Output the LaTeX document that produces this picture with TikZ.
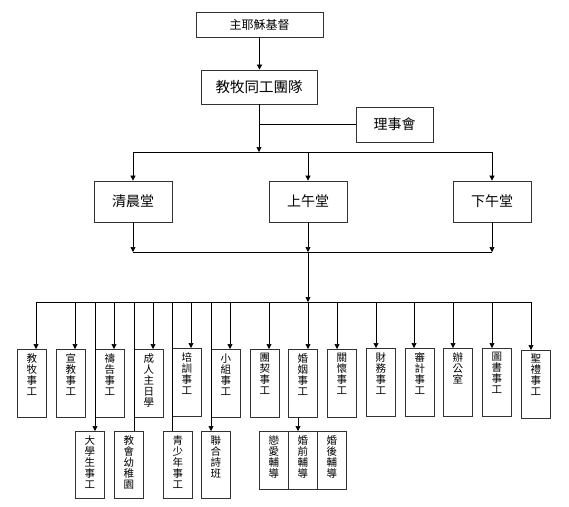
\documentclass[tikz,border=0pt]{standalone}
\usepackage{fontspec}
\newfontfamily\cjk{Noto Sans CJK TC}
\usetikzlibrary{arrows.meta}
\newcommand{\vt}[2]{\parbox[c][#1][t]{29pt}{\centering\vspace*{4pt}\fontsize{10.5}{11}\selectfont\cjk #2\par}}
\begin{document}
\begin{tikzpicture}[x=1pt,y=-1pt,
  box/.style={draw=black!80, line width=0.7pt, inner sep=0pt},
  vbox/.style={box, anchor=north west, minimum width=29pt},
  arr/.style={-{Triangle[length=5pt,width=5pt]}, line width=0.6pt},
  ln/.style={line width=0.6pt}]
\useasboundingbox (0,0) rectangle (569,506);
% top
\node[box, minimum width=127pt, minimum height=25pt, font={\cjk\fontsize{12}{14}\selectfont}] (jesus) at (259.5,24.5) {主耶穌基督};
\node[box, minimum width=116pt, minimum height=34pt, font={\cjk\fontsize{14.5}{16}\selectfont}] (team) at (259,87) {教牧同工團隊};
\node[box, minimum width=77pt, minimum height=35pt, font={\cjk\fontsize{14}{16}\selectfont}] (board) at (394.5,124.5) {理事會};
\node[box, minimum width=78pt, minimum height=41pt, font={\cjk\fontsize{14}{16}\selectfont}] (morn) at (133,201.5) {清晨堂};
\node[box, minimum width=78pt, minimum height=41pt, font={\cjk\fontsize{14}{16}\selectfont}] (am) at (308,201.5) {上午堂};
\node[box, minimum width=78pt, minimum height=41pt, font={\cjk\fontsize{14}{16}\selectfont}] (pm) at (492,201.5) {下午堂};
% row 1
\node[vbox] (n1) at (17,349) {\vt{68pt}{教\\牧\\事\\工}};
\node[vbox] (n2) at (56,349) {\vt{68pt}{宣\\教\\事\\工}};
\node[vbox] (n3) at (95,349) {\vt{68pt}{禱\\告\\事\\工}};
\node[vbox] (n4) at (134,349) {\vt{68pt}{成\\人\\主\\日\\學}};
\node[vbox] (n5) at (172,348) {\vt{68pt}{培\\訓\\事\\工}};
\node[vbox] (n6) at (211,349) {\vt{68pt}{小\\組\\事\\工}};
\node[vbox] (n7) at (250,349) {\vt{68pt}{團\\契\\事\\工}};
\node[vbox] (n8) at (288,349) {\vt{68pt}{婚\\姻\\事\\工}};
\node[vbox] (n9) at (327,349) {\vt{68pt}{關\\懷\\事\\工}};
\node[vbox] (n10) at (366,348) {\vt{68pt}{財\\務\\事\\工}};
\node[vbox] (n11) at (405,348) {\vt{68pt}{審\\計\\事\\工}};
\node[vbox] (n12) at (443,348) {\vt{68pt}{辦\\公\\室}};
\node[vbox] (n13) at (482,348) {\vt{68pt}{圖\\書\\事\\工}};
\node[vbox] (n14) at (521,350) {\vt{68pt}{聖\\禮\\事\\工}};
% row 2
\node[vbox] (m1) at (75,431) {\vt{67pt}{大\\學\\生\\事\\工}};
\node[vbox] (m2) at (114,431) {\vt{67pt}{教\\會\\幼\\稚\\園}};
\node[vbox] (m3) at (163,431) {\vt{67pt}{青\\少\\年\\事\\工}};
\node[vbox] (m4) at (201,431) {\vt{67pt}{聯\\合\\詩\\班}};
\node[vbox] (k1) at (259,431) {\vt{58pt}{戀\\愛\\輔\\導}};
\node[vbox] (k2) at (288,431) {\vt{58pt}{婚\\前\\輔\\導}};
\node[vbox] (k3) at (317,431) {\vt{58pt}{婚\\後\\輔\\導}};
% connectors top
\coordinate (bus1) at (259,152);
\coordinate (bus2) at (308,252);
\coordinate (bus3) at (308,302);
\draw[arr] (jesus.south) -- (jesus.south |- team.north);
\draw[arr] (team.south) -- (team.south |- bus1);
\draw[ln] (team.south |- board.west) -- (board.west);
\draw[ln] (morn.north |- bus1) -- (pm.north |- bus1);
\foreach \b in {morn,am,pm}{
  \draw[arr] (\b.north |- bus1) -- (\b.north);
  \draw[arr] (\b.south) -- (\b.south |- bus2);
}
\draw[ln] (morn.south |- bus2) -- (pm.south |- bus2);
\draw[arr] (bus2) -- (bus3);
% bus 3
\draw[ln] ([xshift=19pt]n1.north west |- bus3) -- ([xshift=10pt]n14.north west |- bus3);
\foreach \n/\o in {n1/19,n2/19,n3/19,n4/19,n5/19,n6/19,n7/19,n8/20,n9/10,n10/10,n11/9,n12/10,n13/10,n14/10}{
  \draw[arr] ([xshift=\o pt]\n.north west |- bus3) -- ([xshift=\o pt]\n.north west);
}
% row 2 connectors
\draw[arr] (n3.north west |- bus3) -- (n3.north west |- m1.north);
\draw[ln] (n4.north west |- bus3) -- (n4.north west |- m2.north);
\draw[ln] (n5.north west |- bus3) -- (n5.north west |- m3.north);
\draw[arr] (n6.north west |- bus3) -- (n6.north west |- m4.north);
\draw[arr] ([xshift=10pt]n8.south west) -- ([xshift=10pt]n8.south west |- k2.north);
\end{tikzpicture}
\end{document}
